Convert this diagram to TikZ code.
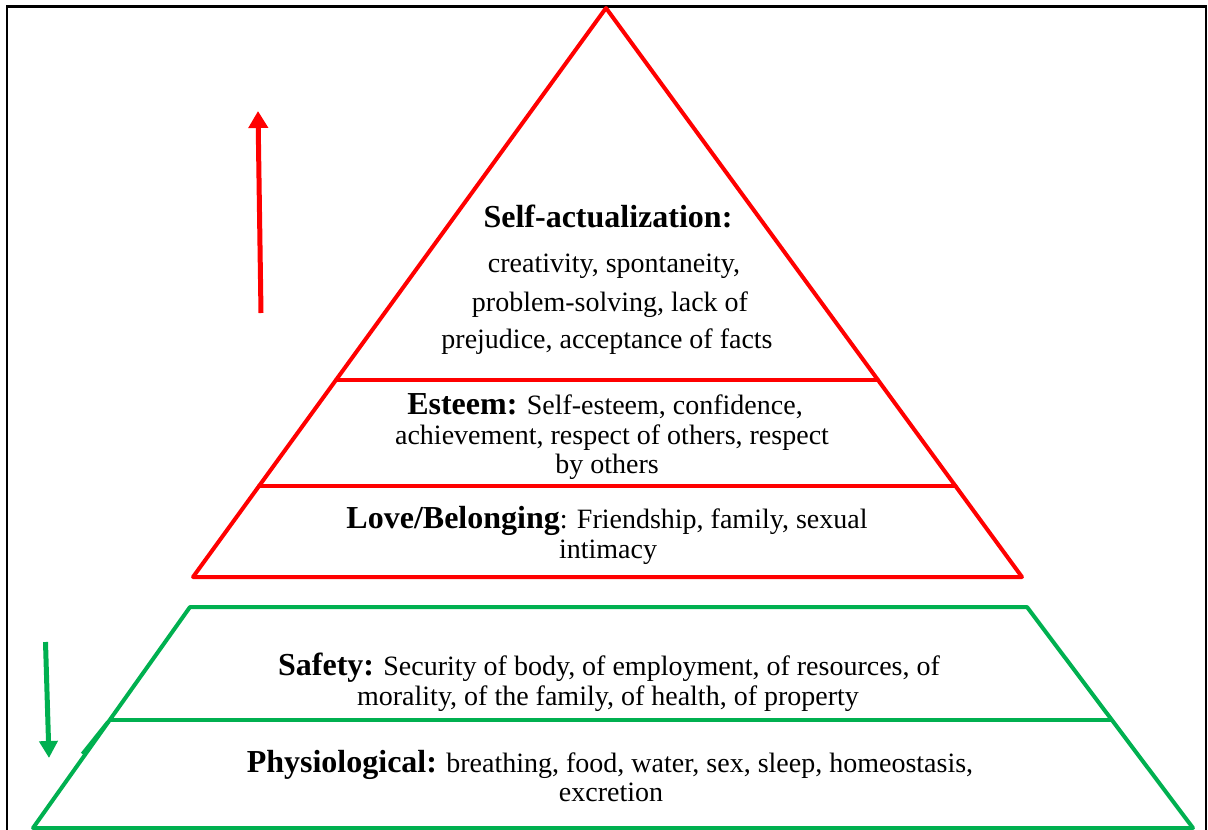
\documentclass[tikz,border=0pt]{standalone}
\usepackage{fontspec}
\setmainfont{Liberation Serif}
\usetikzlibrary{arrows.meta,calc}
\definecolor{pyrred}{RGB}{255,0,0}
\definecolor{pyrgreen}{RGB}{0,176,80}
\newcommand\headtxt[1]{{\fontsize{32}{36}\selectfont\bfseries #1}}
\begin{document}
\begin{tikzpicture}[x=1pt,y=-1pt,
  redline/.style={draw=pyrred,line width=4pt,line join=round,line cap=round},
  greenline/.style={draw=pyrgreen,line width=4pt,line join=round},
  body/.style={font=\fontsize{28}{34}\selectfont,anchor=base,inner sep=0pt},
  uparrow/.style={draw=pyrred,line width=5pt,-{Triangle[width=19pt,length=17pt]}},
  downarrow/.style={draw=pyrgreen,line width=5pt,-{Triangle[width=18pt,length=17pt]}}]
\useasboundingbox (0,0) rectangle (1208,830);

% outer frame (open at the bottom)
\coordinate (fbl) at (7,836);
\coordinate (ftl) at (7,6.5);
\coordinate (ftr) at (1206,6.5);
\coordinate (fbr) at (1206,836);
\draw[line width=2.5pt] (fbl) -- (ftl) -- (ftr) -- (fbr);

% upper (red) triangle
\coordinate (apex) at (606,8);
\coordinate (rbl) at (193,577);
\coordinate (rbr) at (1022,577);
\draw[redline] (apex) -- (rbl) -- (rbr) -- cycle;
\coordinate (e1l) at ($(apex)!0.6538!(rbl)$);
\coordinate (e1r) at ($(apex)!0.6538!(rbr)$);
\coordinate (e2l) at ($(apex)!0.8401!(rbl)$);
\coordinate (e2r) at ($(apex)!0.8401!(rbr)$);
\draw[redline] (e1l) -- (e1r);
\draw[redline] (e2l) -- (e2r);

% lower (green) trapezoid
\coordinate (gtl) at (190,607);
\coordinate (gtr) at (1027,607);
\coordinate (gbl) at (33,828);
\coordinate (gbr) at (1193,828);
\draw[greenline] (gtl) -- (gtr) -- (gbr) -- (gbl) -- cycle;
\coordinate (gml) at ($(gtl)!0.5113!(gbl)$);
\coordinate (gmr) at ($(gtr)!0.5113!(gbr)$);
\draw[greenline] (gml) -- (gmr);
\coordinate (gsa) at (82.5,754);
\coordinate (gsb) at (108,722);
\draw[greenline] (gsa) -- (gsb);

% arrows
\coordinate (ua0) at (261,313);
\coordinate (ua1) at (258,111);
\draw[uparrow] (ua0) -- (ua1);
\coordinate (da0) at (45.5,642);
\coordinate (da1) at (49,758);
\draw[downarrow] (da0) -- (da1);

% texts
\node[body] (sahead) at (608,227) {\headtxt{Self-actualization:}};
\node[body] (saone) at (614,272) {creativity, spontaneity,};
\node[body] (satwo) at (610,311) {problem-solving, lack of};
\node[body] (sathree) at (607,348) {prejudice, acceptance of facts};

\node[body] (esone) at (605,414) {\headtxt{Esteem:} Self-esteem, confidence,};
\node[body] (estwo) at (612,444) {achievement, respect of others, respect};
\node[body] (esthree) at (607,473) {by others};

\node[body] (lbone) at (607,528) {\headtxt{Love/Belonging}: Friendship, family, sexual};
\node[body] (lbtwo) at (608,558) {intimacy};

\node[body] (sfone) at (609,675) {\headtxt{Safety:} Security of body, of employment, of resources, of};
\node[body] (sftwo) at (608,705) {morality, of the family, of health, of property};

\node[body] (phone) at (610,772) {\headtxt{Physiological:} breathing, food, water, sex, sleep, homeostasis,};
\node[body] (phtwo) at (611,801) {excretion};
\end{tikzpicture}
\end{document}
